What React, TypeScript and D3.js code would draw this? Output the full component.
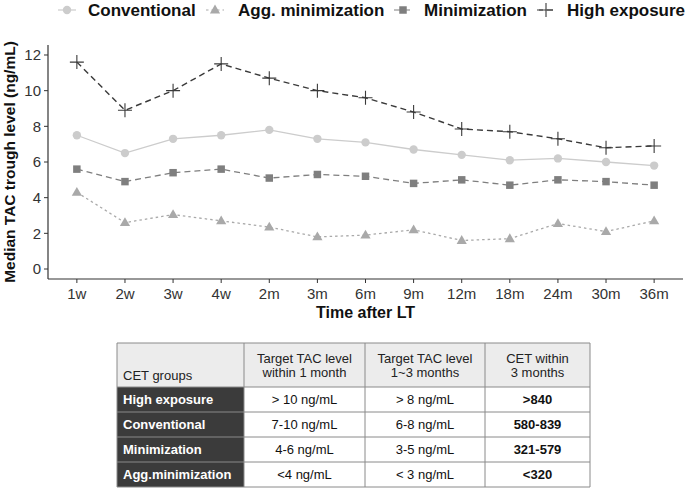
import React from "react";
import * as d3 from "d3";

const times = ["1w", "2w", "3w", "4w", "2m", "3m", "6m", "9m", "12m", "18m", "24m", "30m", "36m"];
const conventional = [7.5, 6.5, 7.3, 7.5, 7.8, 7.3, 7.1, 6.7, 6.4, 6.1, 6.2, 6.0, 5.8];
const aggMinimization = [4.3, 2.6, 3.05, 2.7, 2.35, 1.8, 1.9, 2.2, 1.6, 1.7, 2.55, 2.1, 2.7];
const minimization = [5.6, 4.9, 5.4, 5.6, 5.1, 5.3, 5.2, 4.8, 5.0, 4.7, 5.0, 4.9, 4.7];
const highExposure = [11.6, 8.9, 10.0, 11.5, 10.7, 10.0, 9.6, 8.8, 7.85, 7.7, 7.3, 6.8, 6.9];
const yTicks = [0, 2, 4, 6, 8, 10, 12];

const tableHeader = ["CET groups", "Target TAC level|within 1 month", "Target TAC level|1~3 months", "CET within|3 months"];
const tableRows = [
  ["High exposure", "> 10 ng/mL", "> 8 ng/mL", ">840"],
  ["Conventional", "7-10 ng/mL", "6-8 ng/mL", "580-839"],
  ["Minimization", "4-6 ng/mL", "3-5 ng/mL", "321-579"],
  ["Agg.minimization", "<4 ng/mL", "< 3 ng/mL", "<320"],
];

const FONT = "'Liberation Sans', Arial, Helvetica, sans-serif";

type Series = {
  name: string;
  values: number[];
  color: string;
  dash: string;
  symbol: "circle" | "triangle" | "square" | "plus";
};

const series: Series[] = [
  { name: "Conventional", values: conventional, color: "#cccccc", dash: "", symbol: "circle" },
  { name: "Agg. minimization", values: aggMinimization, color: "#a9a9a9", dash: "2.5,3", symbol: "triangle" },
  { name: "Minimization", values: minimization, color: "#7f7f7f", dash: "6,4", symbol: "square" },
  { name: "High exposure", values: highExposure, color: "#3a3a3a", dash: "6,4", symbol: "plus" },
];

const Marker: React.FC<{ s: Series; x: number; y: number }> = ({ s, x, y }) => {
  if (s.symbol === "plus") {
    return (
      <path
        d={`M${x - 7},${y}H${x + 7}M${x},${y - 7}V${y + 7}`}
        stroke={s.color}
        strokeWidth={1.1}
        fill="none"
      />
    );
  }
  const type =
    s.symbol === "circle" ? d3.symbolCircle : s.symbol === "triangle" ? d3.symbolTriangle : d3.symbolSquare;
  const size = s.symbol === "circle" ? 55 : s.symbol === "triangle" ? 45 : 56;
  const dy = s.symbol === "triangle" ? 0.5 : 0;
  return (
    <path
      d={d3.symbol().type(type).size(size)() as string}
      transform={`translate(${x},${y + dy})`}
      fill={s.color}
    />
  );
};

export default function App() {
  const margin = { left: 48, right: 2, top: 45, bottom: 279 };

  const x = d3.scalePoint<string>().domain(times).range([margin.left, 685 - margin.right]).padding(0.6);
  const y = d3.scaleLinear().domain([-0.56, 12.56]).range([margin.bottom, margin.top]);

  const line = d3
    .line<number>()
    .x((_, i) => x(times[i]) as number)
    .y((d) => y(d));

  // legend positions (key centre, text start)
  const legendItems = [
    { key: 67, text: 88 },
    { key: 215, text: 238 },
    { key: 403, text: 424 },
    { key: 546, text: 567 },
  ];
  const legendY = 10;

  // table geometry
  const colX = [117, 244, 365, 485, 590];
  const rowY = [343, 387, 412, 437, 462, 487];

  return (
    <svg
      width={685}
      height={490}
      style={{ position: "absolute", left: 0, top: 0, background: "#fff" }}
      fontFamily={FONT}
    >
      {/* legend */}
      {series.map((s, i) => {
        const it = legendItems[i];
        return (
          <g key={s.name}>
            <line
              x1={it.key - 9}
              x2={it.key + 9}
              y1={legendY}
              y2={legendY}
              stroke={s.color}
              strokeWidth={1.2}
              strokeDasharray={s.dash}
            />
            <Marker s={s} x={it.key} y={legendY} />
            <text x={it.text} y={legendY + 6} fontSize={17} fontWeight="bold" fill="#111">
              {s.name}
            </text>
          </g>
        );
      })}

      {/* axes */}
      <line x1={margin.left} x2={margin.left} y1={margin.top} y2={margin.bottom} stroke="#333" strokeWidth={1.2} />
      <line x1={margin.left} x2={685 - margin.right} y1={margin.bottom} y2={margin.bottom} stroke="#333" strokeWidth={1.2} />
      {yTicks.map((t) => (
        <g key={t}>
          <line x1={margin.left - 4} x2={margin.left} y1={y(t)} y2={y(t)} stroke="#333" />
          <text x={margin.left - 7} y={y(t)} dy="0.35em" textAnchor="end" fontSize={15} fill="#333">
            {t}
          </text>
        </g>
      ))}
      {times.map((t) => (
        <g key={t}>
          <line x1={x(t)} x2={x(t)} y1={margin.bottom} y2={margin.bottom + 4} stroke="#333" />
          <text x={x(t)} y={margin.bottom + 20} textAnchor="middle" fontSize={15} fill="#333">
            {t}
          </text>
        </g>
      ))}
      <text
        transform={`translate(15,${(margin.top + margin.bottom) / 2}) rotate(-90)`}
        textAnchor="middle"
        fontSize={15.5}
        fontWeight="bold"
        fill="#111"
      >
        Median TAC trough level (ng/mL)
      </text>
      <text
        x={(margin.left + 685 - margin.right) / 2}
        y={318}
        textAnchor="middle"
        fontSize={16}
        fontWeight="bold"
        fill="#111"
      >
        Time after LT
      </text>

      {/* series */}
      {series.map((s) => (
        <g key={s.name}>
          <path
            d={line(s.values) as string}
            fill="none"
            stroke={s.color}
            strokeWidth={s.symbol === "plus" ? 1.4 : 1.3}
            strokeDasharray={s.dash}
          />
          {s.values.map((v, i) => (
            <Marker key={i} s={s} x={x(times[i]) as number} y={y(v)} />
          ))}
        </g>
      ))}

      {/* table */}
      <rect x={colX[0]} y={rowY[0]} width={colX[4] - colX[0]} height={rowY[1] - rowY[0]} fill="#ececec" />
      <rect x={colX[0]} y={rowY[1]} width={colX[1] - colX[0]} height={rowY[5] - rowY[1]} fill="#3b3b3b" />
      {rowY.map((ry, i) => (
        <line key={"h" + i} x1={colX[0]} x2={colX[4]} y1={ry} y2={ry} stroke="#8a8a8a" strokeWidth={1} />
      ))}
      {colX.map((cx, i) => (
        <line key={"v" + i} x1={cx} x2={cx} y1={rowY[0]} y2={rowY[5]} stroke="#8a8a8a" strokeWidth={1} />
      ))}
      {tableHeader.map((h, c) => {
        const parts = h.split("|");
        if (c === 0) {
          return (
            <text key={c} x={colX[0] + 6} y={rowY[1] - 7} fontSize={13} fill="#222">
              {parts[0]}
            </text>
          );
        }
        const cx = (colX[c] + colX[c + 1]) / 2;
        return (
          <text key={c} x={cx} textAnchor="middle" fontSize={13} fill="#222">
            <tspan x={cx} y={rowY[0] + 20}>
              {parts[0]}
            </tspan>
            <tspan x={cx} y={rowY[0] + 34}>
              {parts[1]}
            </tspan>
          </text>
        );
      })}
      {tableRows.map((row, r) =>
        row.map((cell, c) => {
          const cy = (rowY[r + 1] + rowY[r + 2]) / 2;
          if (c === 0) {
            return (
              <text key={r + "-" + c} x={colX[0] + 6} y={cy} dy="0.35em" fontSize={13} fontWeight="bold" fill="#fff">
                {cell}
              </text>
            );
          }
          return (
            <text
              key={r + "-" + c}
              x={(colX[c] + colX[c + 1]) / 2}
              y={cy}
              dy="0.35em"
              textAnchor="middle"
              fontSize={13}
              fontWeight={c === 3 ? "bold" : "normal"}
              fill="#111"
            >
              {cell}
            </text>
          );
        })
      )}
    </svg>
  );
}
